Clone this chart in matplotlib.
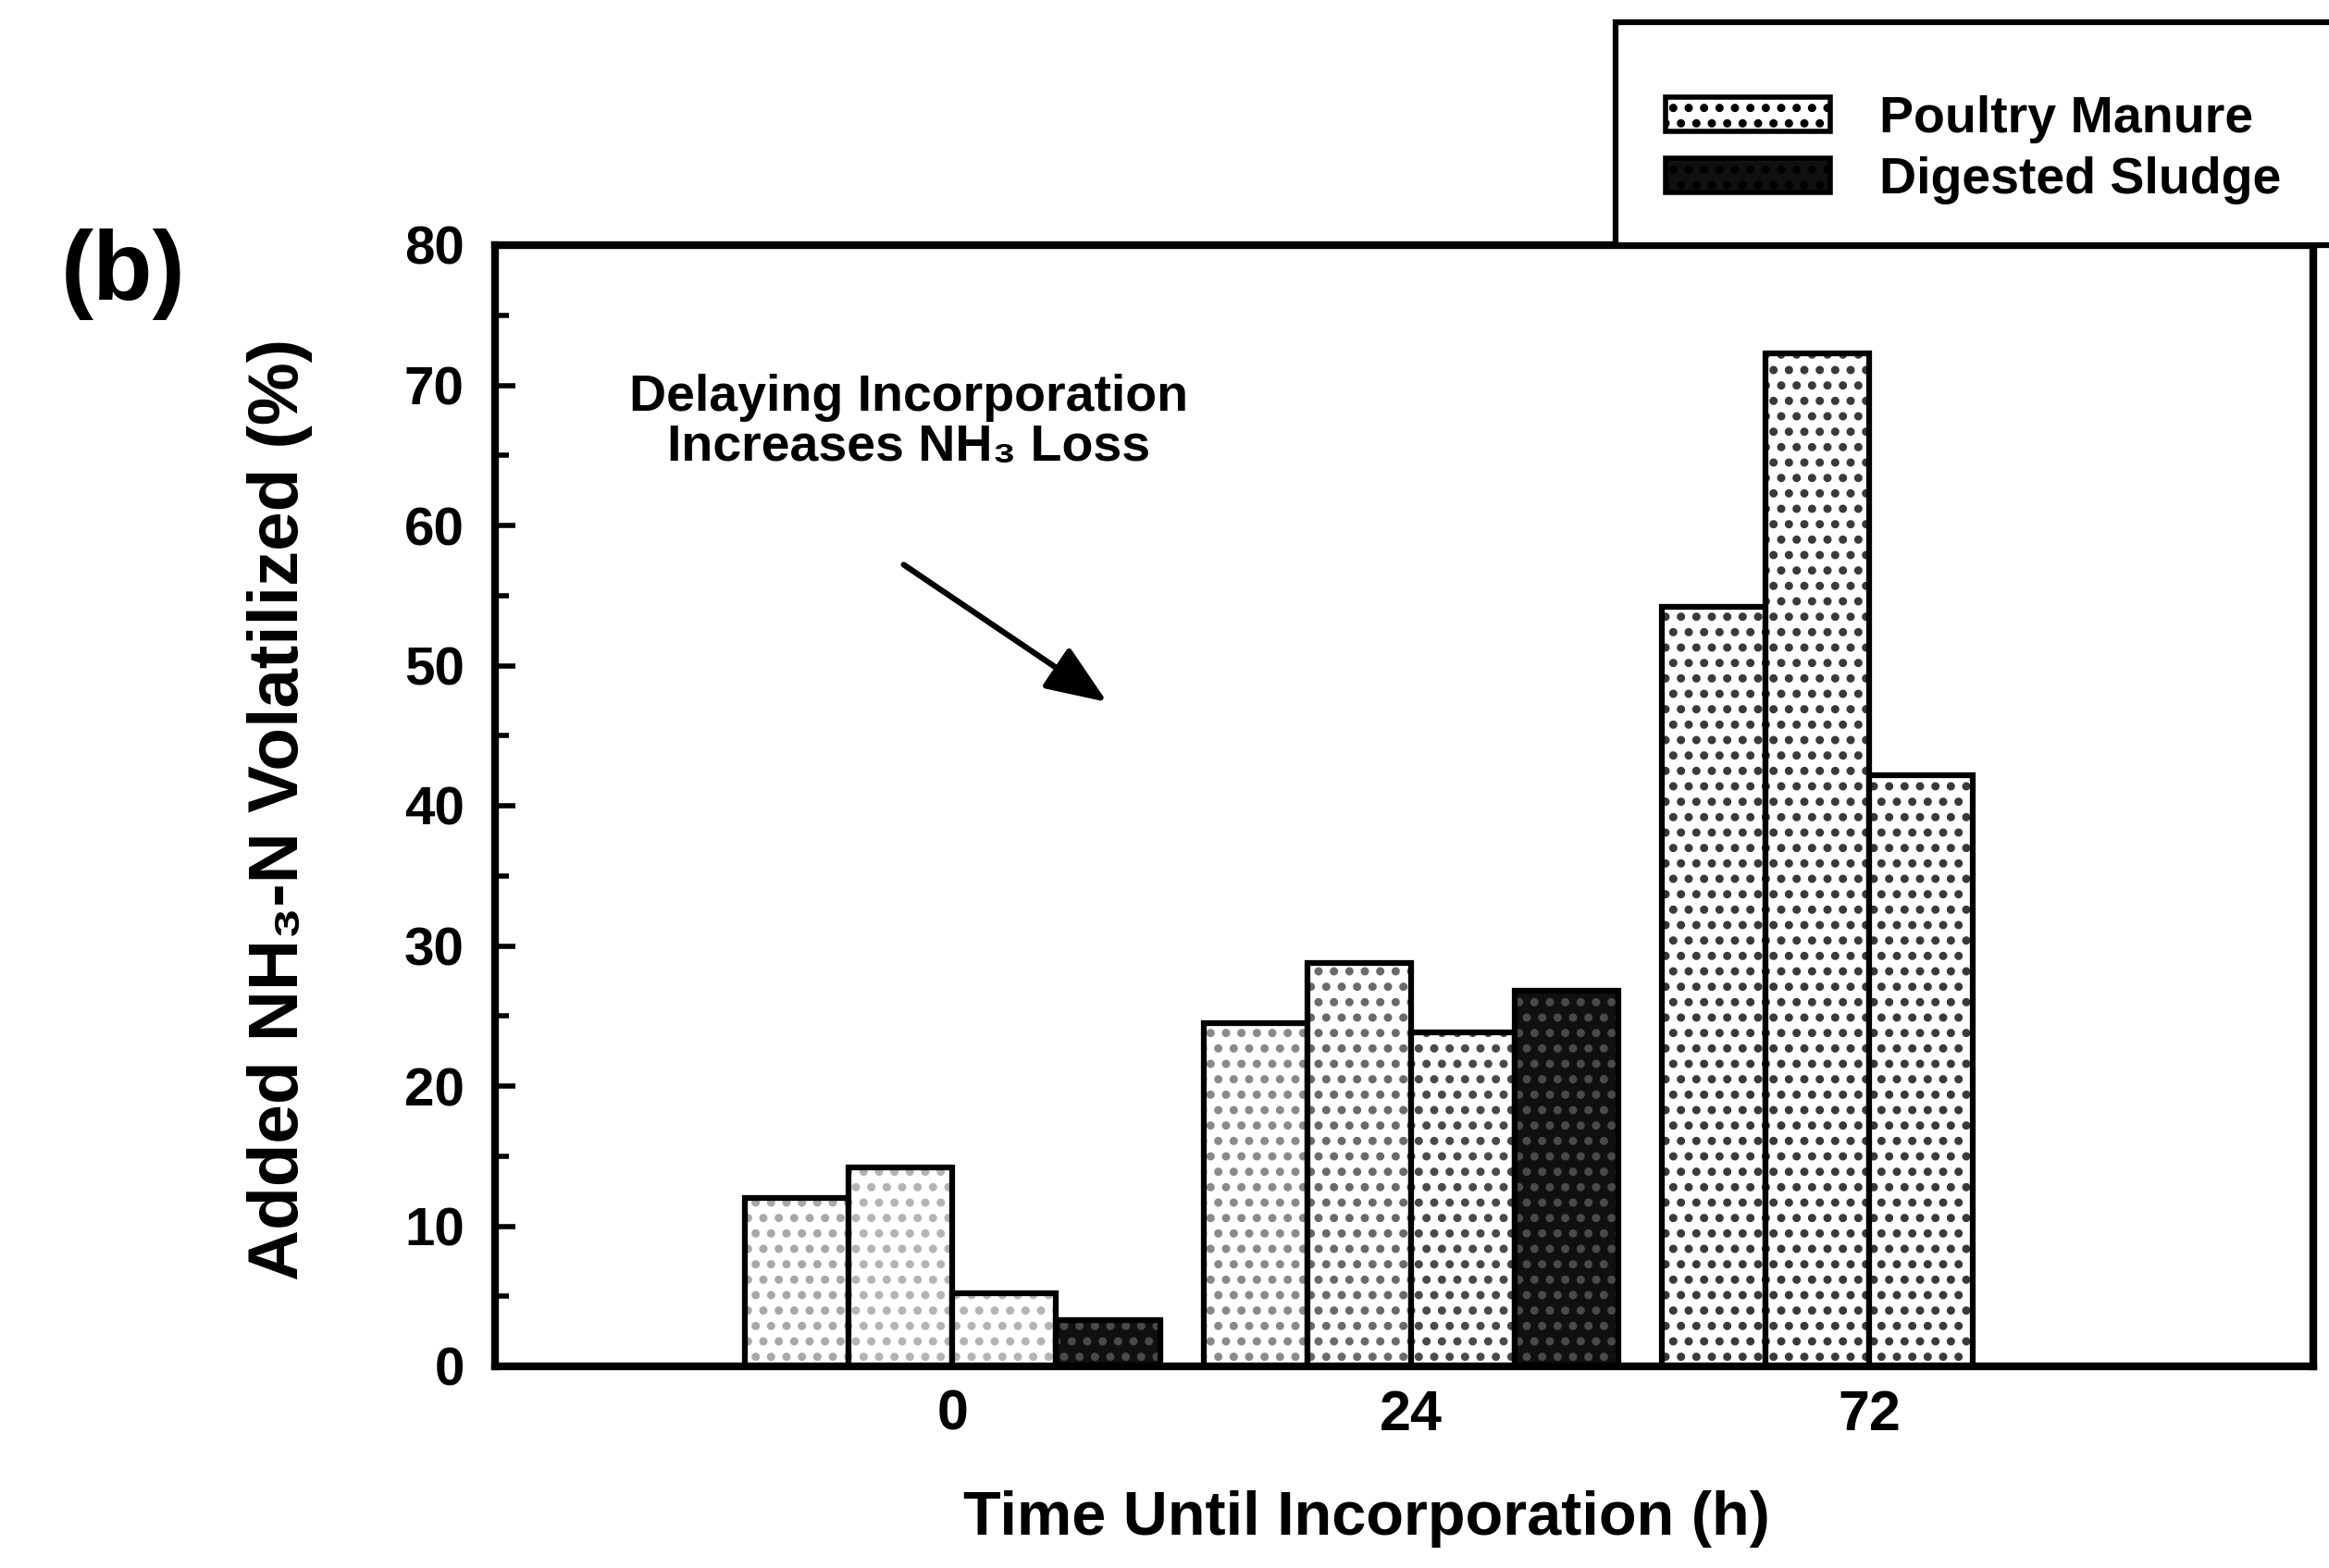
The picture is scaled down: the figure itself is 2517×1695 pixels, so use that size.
#!/usr/bin/env python3
"""
Ammonia volatilization after delayed incorporation (panel b).
Grouped bars: poultry manure (dotted) and digested sludge (dark) per delay time.
"""

import matplotlib
matplotlib.use('Agg')
import matplotlib.pyplot as plt
from matplotlib.patches import Patch, Rectangle
from matplotlib.ticker import MultipleLocator

plt.rcParams['font.family'] = ['Liberation Sans', 'DejaVu Sans']
plt.rcParams['font.weight'] = 'bold'
plt.rcParams['hatch.linewidth'] = 4.0

# Data (% of added NH3-N volatilized)
times = ['0', '24', '72']
poultry = [
    [12.0, 14.2, 5.2],
    [24.5, 28.8, 23.8],
    [54.2, 72.3, 42.2],
]
sludge = [3.3, 26.8, None]

# dot colour per poultry bar (the printed stipple varies in density)
poultry_dots = [
    ['#a8a8a8', '#b4b4b4', '#b4b4b4'],
    ['#8a8a8a', '#6a6a6a', '#4a4a4a'],
    ['#3a3a3a', '#3a3a3a', '#3a3a3a'],
]

W, H = 2517, 1695


def fx(px):
    return px / W


def fy(py):
    return 1 - py / H


def draw_bar(ax, x, v, face, dots):
    # stipple layer, then a clean black outline on top
    ax.bar(x, v, width=1.0, color=face, edgecolor=dots, hatch='.', linewidth=0)
    ax.bar(x, v, width=1.0, fill=False, edgecolor='black', linewidth=4.5)


def main():
    fig = plt.figure(figsize=(W / 100, H / 100), dpi=100)
    ax = fig.add_axes([fx(535), fy(1477), fx(2500) - fx(535), fy(265) - fy(1477)])

    group_step = 4.42
    tick_pos = []
    for i, vals in enumerate(poultry):
        start = i * group_step
        tick_pos.append(start + 2.0)
        for j, v in enumerate(vals):
            draw_bar(ax, start + j + 0.5, v, 'white', poultry_dots[i][j])
        if sludge[i] is not None:
            draw_bar(ax, start + 3.5, sludge[i], '#101010', '#4a4a4a')

    ax.set_xlim(-2.41, 15.12)
    ax.set_ylim(0, 80)
    ax.set_xticks(tick_pos)
    ax.set_xticklabels(times)
    ax.yaxis.set_major_locator(MultipleLocator(10))
    ax.yaxis.set_minor_locator(MultipleLocator(5))
    ax.tick_params(axis='y', which='major', direction='in', length=16, width=4,
                   labelsize=42, pad=24)
    ax.tick_params(axis='y', which='minor', direction='in', length=11, width=4)
    ax.tick_params(axis='x', length=0, labelsize=44, pad=18)
    for s in ax.spines.values():
        s.set_linewidth(6)

    # annotation with arrow
    ax.text(1.58, 67.3, 'Delaying Incorporation\nIncreases NH\u2083 Loss',
            ha='center', va='center', fontsize=40, linespacing=1.05)
    ax.annotate('', xy=(3.49, 47.4), xytext=(1.53, 57.2),
                arrowprops=dict(arrowstyle='-|>,head_length=0.9,head_width=0.36',
                                lw=4.5, color='black', mutation_scale=45,
                                shrinkA=0, shrinkB=0))

    # axis titles
    fig.text(fx(302), fy(875), 'Added NH\u2083-N Volatilized (%)', rotation=90,
             ha='center', va='center', fontsize=55)
    fig.text(fx(1477), fy(1642), 'Time Until Incorporation (h)',
             ha='center', va='center', fontsize=48)
    fig.text(fx(133), fy(297), '(b)', ha='center', va='center', fontsize=76)

    # legend box sits on the top-right corner and runs off the page
    box = Rectangle((fx(1746), fy(265)), 0.5, fy(24) - fy(265),
                    transform=fig.transFigure, facecolor='white',
                    edgecolor='black', linewidth=4.5, zorder=5, clip_on=False)
    fig.patches.append(box)
    handles = [
        Patch(facecolor='white', edgecolor='black', hatch='.', linewidth=4),
        Patch(facecolor='#101010', edgecolor='black', hatch='.', linewidth=4),
    ]
    leg = fig.legend(handles, ['Poultry Manure', 'Digested Sludge'],
                     loc='upper left', bbox_to_anchor=(fx(1800), fy(103)),
                     frameon=False, fontsize=40, handlelength=3.2,
                     handleheight=0.65, handletextpad=0.95, labelspacing=0.25,
                     borderpad=0, borderaxespad=0)
    leg.set_zorder(6)

    plt.savefig('out.png', dpi=100)


if __name__ == '__main__':
    main()
